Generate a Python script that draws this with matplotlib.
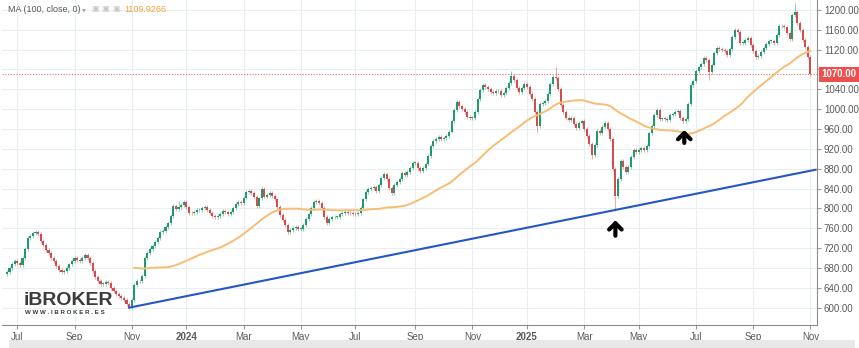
import matplotlib
matplotlib.use("Agg")
import matplotlib.pyplot as plt
import matplotlib.transforms as mtransforms
import numpy as np
import pandas as pd

# --- data: closes sampled every 2nd trading day, from 21 Jun 2023 ---
start_date = "2023-06-21"
first_open = 668
close = [
    672, 680, 688, 695, 690, 686, 700, 718, 740, 745,
    750, 753, 748, 735, 726, 716, 711, 700, 694, 683,
    675, 671, 673, 679, 687, 695, 701, 696, 694, 701,
    706, 700, 690, 674, 661, 654, 648, 648, 652, 650,
    640, 633, 627, 624, 620, 615, 607, 602, 615, 645,
    654, 653, 663, 700, 710, 718, 724, 732, 740, 753,
    755, 762, 770, 785, 805, 798, 802, 806, 812, 802,
    791, 790, 793, 796, 797, 800, 802, 797, 790, 785,
    782, 785, 789, 794, 792, 788, 793, 800, 808, 812,
    811, 822, 834, 836, 832, 823, 805, 820, 840, 824,
    828, 832, 826, 818, 802, 787, 776, 766, 752, 757,
    761, 762, 759, 759, 766, 779, 789, 800, 812, 815,
    811, 800, 783, 771, 778, 782, 783, 783, 788, 791,
    793, 791, 790, 788, 788, 790, 800, 818, 833, 840,
    842, 843, 836, 848, 862, 870, 860, 842, 832, 847,
    853, 859, 871, 867, 874, 882, 892, 892, 881, 875,
    881, 890, 906, 925, 936, 940, 943, 939, 941, 946,
    955, 976, 999, 1014, 1006, 1000, 995, 984, 982, 983,
    994, 1020, 1038, 1048, 1044, 1040, 1035, 1033, 1036, 1036,
    1028, 1033, 1043, 1052, 1066, 1058, 1042, 1034, 1042, 1051,
    1045, 1031, 1021, 995, 966, 1010, 1013, 1016, 1030, 1051,
    1064, 1062, 1040, 1008, 995, 982, 978, 982, 970, 962,
    972, 977, 960, 945, 929, 908, 928, 957, 952, 964,
    972, 960, 940, 880, 826, 860, 895, 884, 874, 883,
    904, 917, 914, 918, 921, 918, 926, 952, 967, 989,
    998, 980, 980, 981, 979, 988, 990, 994, 996, 982,
    976, 981, 1010, 1048, 1057, 1076, 1084, 1092, 1104, 1100,
    1075, 1090, 1113, 1124, 1121, 1119, 1117, 1109, 1122, 1145,
    1160, 1155, 1133, 1133, 1140, 1144, 1130, 1117, 1106, 1108,
    1116, 1124, 1131, 1137, 1138, 1133, 1150, 1167, 1168, 1165,
    1153, 1142, 1190, 1195, 1174, 1160, 1140, 1125, 1105, 1070,
]
# notable wicks (candle index -> extreme price)
wick_high = {194: 1076, 211: 1085, 303: 1214, 66: 815, 98: 846}
wick_low = {234: 795, 204: 955, 225: 900, 270: 1058}

ma_window = 50            # 100 trading days at 2-day sampling
ma_label = "MA (100, close, 0)"
ma_value_text = "1109.9266"
last_price = 1070.00

# trend support line (candle index, price)
trend_idx = [47, 311]
trend_val = [600, 878]

# arrow markers (candle index, tip price, tail price)
arrows = [(234, 776, 745), (260.5, 958, 932)]

# --- derived ---
n = len(close)
close = np.array(close, dtype=float)
opens = np.concatenate([[first_open], close[:-1]])
dates = pd.bdate_range(start_date, periods=2 * n)[::2]
ma = pd.Series(close).rolling(ma_window).mean()
x = np.arange(n)

UP = "#1f9a6b"
DOWN = "#d64b4b"
GRID = "#e9eef2"
TXT = "#5a5a5a"

plt.rcParams["font.family"] = ["Liberation Sans Narrow", "Liberation Sans", "DejaVu Sans"]

fig = plt.figure(figsize=(8.59, 3.48), dpi=100)
fig.patch.set_facecolor("white")
ax = fig.add_axes([0.002, 0.066, 0.949, 0.934])

# candles
up = close >= opens
colors = np.where(up, UP, DOWN)
hi = np.maximum(opens, close) + 4
lo = np.minimum(opens, close) - 4
for k, v in wick_high.items():
    hi[k] = v
for k, v in wick_low.items():
    lo[k] = v
ax.vlines(x, lo, hi, colors=colors, linewidth=0.6, alpha=0.55, zorder=3)
body = np.maximum(np.abs(close - opens), 1.5)
ax.bar(x, body, bottom=np.minimum(opens, close), width=0.8,
       color=colors, linewidth=0, zorder=4)

# moving average
ax.plot(x, ma, color="#f7bd72", linewidth=1.4, zorder=5)

# trend line
ax.plot(trend_idx, trend_val, color="#2456c8", linewidth=1.5, zorder=5)

# arrows
for xi, tip, tail in arrows:
    ax.annotate("", xy=(xi, tip), xytext=(xi, tail),
                arrowprops=dict(arrowstyle="->,head_length=0.45,head_width=0.45",
                                lw=3, color="black", shrinkA=0, shrinkB=0),
                zorder=6)

# last price line + tag
ax.axhline(last_price, color="#e8706d", linestyle=(0, (1, 1.5)), linewidth=0.8, zorder=2)
trans = mtransforms.blended_transform_factory(ax.transAxes, ax.transData)
ax.text(1.006, last_price, f"{last_price:.2f}", transform=trans, ha="left", va="center",
        fontsize=7, fontweight="bold", color="white", clip_on=False, zorder=10,
        bbox=dict(boxstyle="square,pad=0.3", facecolor="#ef4f4c", edgecolor="none"))

# axes
ax.set_xlim(-2, 311.5)
ax.set_ylim(565, 1220)
ax.yaxis.tick_right()
yt = np.arange(600, 1201, 40)
ax.set_yticks(yt)
# 1080 label sits under the last-price tag
ax.set_yticklabels(["" if v == 1080 else f"{v:.2f}" for v in yt], fontsize=7, color=TXT)

tick_pos, tick_lab = [], []
for i in range(1, n):
    if dates[i].month != dates[i - 1].month and dates[i].month % 2 == 1:
        tick_pos.append(i)
        tick_lab.append(str(dates[i].year) if dates[i].month == 1 else dates[i].strftime("%b"))
ax.set_xticks(tick_pos)
ax.set_xticklabels(tick_lab, fontsize=7, color=TXT)
for lab in ax.get_xticklabels():
    if lab.get_text().isdigit():
        lab.set_fontweight("bold")
ax.tick_params(axis="both", length=3, color="#9a9a9a", pad=2)

ax.grid(True, color=GRID, linewidth=0.8, zorder=0)
ax.set_axisbelow(True)
for s in ["top", "left"]:
    ax.spines[s].set_visible(False)
for s in ["right", "bottom"]:
    ax.spines[s].set_color("#8c8c8c")
    ax.spines[s].set_linewidth(0.8)

# indicator legend
ax.text(0.008, 0.985, ma_label, transform=ax.transAxes, fontsize=6.5,
        color=TXT, va="top", ha="left")
ax.text(0.099, 0.985, "\u25be", transform=ax.transAxes, fontsize=5.5,
        color="#aaaaaa", va="top", ha="left", family=["DejaVu Sans"])
for k in range(3):
    ax.text(0.110 + k * 0.0125, 0.988, "\u25a3", transform=ax.transAxes, fontsize=6,
            color="#c8c8c8", va="top", ha="left", family=["DejaVu Sans"])
ax.text(0.150, 0.985, ma_value_text, transform=ax.transAxes, fontsize=6.5,
        color="#f2a33a", va="top", ha="left")

# watermark logo
ax.text(0.027, 0.062, "iBROKER", transform=ax.transAxes, fontsize=14,
        fontweight="bold", color="#3b3b3b", family=["Liberation Sans", "DejaVu Sans"],
        va="baseline", ha="left", zorder=7)
ax.text(0.029, 0.040, "W W W . I B R O K E R . E S", transform=ax.transAxes,
        fontsize=4.4, fontweight="bold", color="#3b3b3b", va="center", ha="left", zorder=7)

# bottom toolbar band
fig.patches.append(plt.Rectangle((0.01, 0.0), 0.985, 0.022, transform=fig.transFigure,
                                 facecolor="#e8e8e8", edgecolor="none"))

fig.savefig("out.png", dpi=100)
